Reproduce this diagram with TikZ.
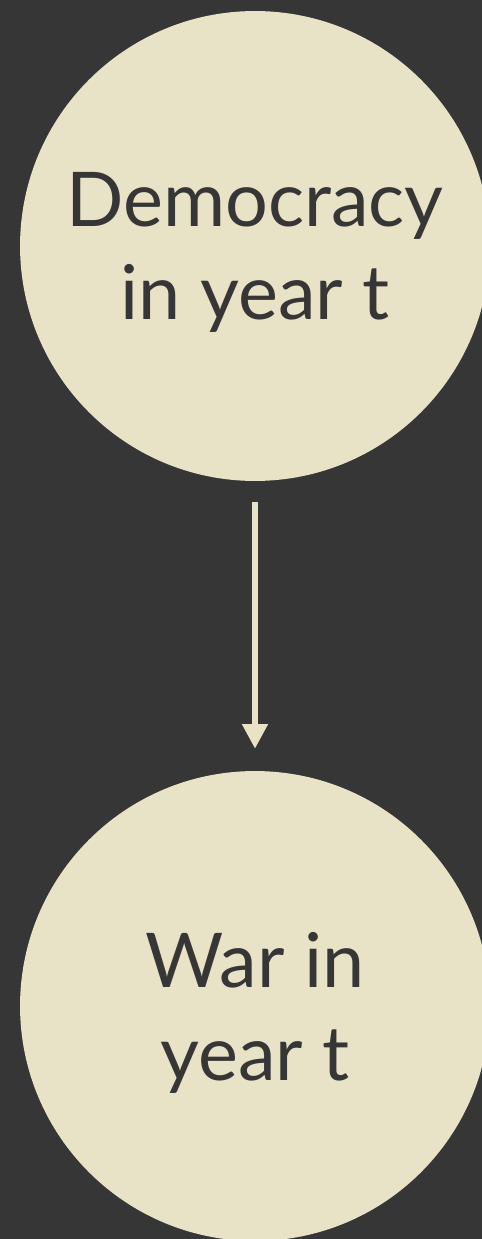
\documentclass[tikz,border=0pt]{standalone}
\usepackage{fontspec}
\setmainfont{Lato}
\usetikzlibrary{arrows.meta,positioning}
\definecolor{bgdark}{HTML}{363636}
\definecolor{cream}{HTML}{E8E3C7}

\begin{document}
\begin{tikzpicture}[x=0.02cm,y=-0.02cm,
every node/.style={circle,fill=cream,text=bgdark,minimum size=9.4cm,inner sep=0pt,
  align=center,text depth=0pt,font=\fontsize{43}{53}\selectfont}]
\fill[bgdark] (0,0) rectangle (482,1239);
\useasboundingbox (0,0) rectangle (482,1239);
\node (demo) at (255,246) {Democracy\\in year t};
\node (war) at (255,1006) {War in\\year t};
\draw[cream,line width=3.2pt,shorten <=12pt,shorten >=12.5pt,
  -{Triangle[width=14pt,length=14pt]}] (demo)--(war);
\end{tikzpicture}
\end{document}
